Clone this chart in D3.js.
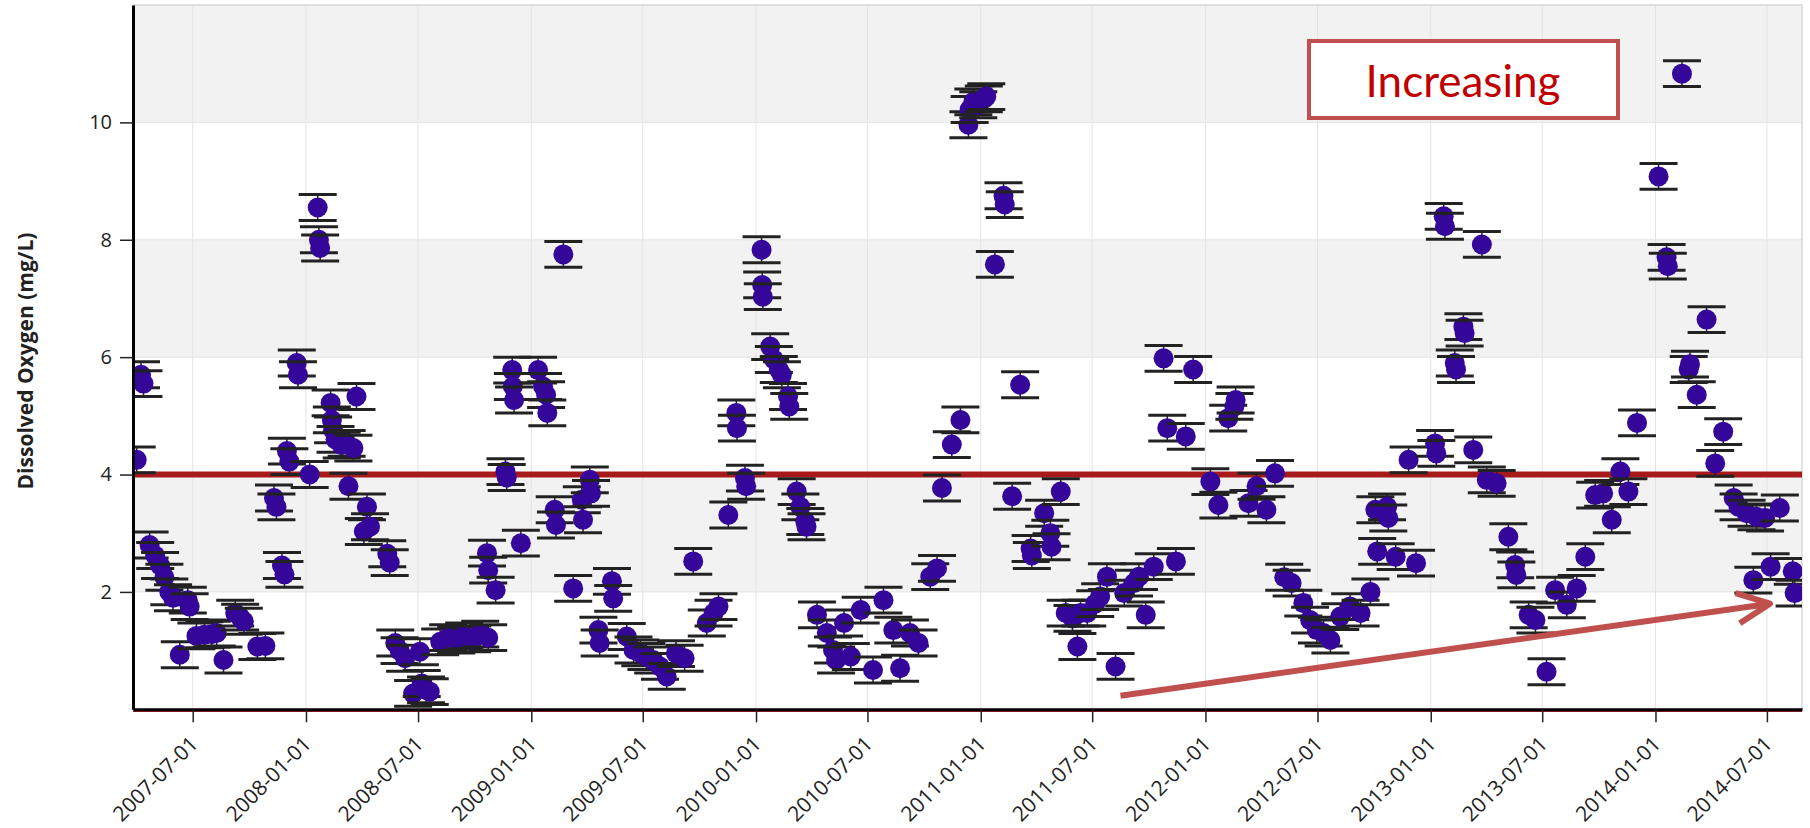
<!DOCTYPE html>
<html>
<head>
<meta charset="utf-8">
<script src="https://cdn.jsdelivr.net/npm/d3@7"></script>
<style>
  body { margin: 0; background: #fff; }
</style>
</head>
<body>
<div id="chart"></div>
<script>
// sample dates and dissolved oxygen readings (mg/L)
var sampleDates = [
  "2007-04-01","2007-04-08","2007-04-12","2007-04-22","2007-05-01","2007-05-09","2007-05-16","2007-05-24","2007-05-30","2007-06-10",
  "2007-06-23","2007-06-26","2007-07-07","2007-07-20","2007-08-01","2007-08-09","2007-08-20","2007-09-08","2007-09-16","2007-09-22",
  "2007-10-14","2007-10-27","2007-11-10","2007-11-14","2007-11-23","2007-11-27","2007-12-01","2007-12-05","2007-12-17","2007-12-19",
  "2008-01-07","2008-01-20","2008-01-22","2008-01-24","2008-02-10","2008-02-12","2008-02-14","2008-02-18","2008-02-28","2008-03-07",
  "2008-03-10","2008-03-18","2008-03-23","2008-04-04","2008-04-09","2008-04-14","2008-05-12","2008-05-16","2008-05-25","2008-06-01",
  "2008-06-10","2008-06-23","2008-07-04","2008-07-07","2008-07-14","2008-07-20","2008-08-06","2008-08-19","2008-09-01","2008-09-14",
  "2008-09-27","2008-10-10","2008-10-23","2008-10-21","2008-10-23","2008-11-04","2008-11-20","2008-11-22","2008-12-01","2008-12-02",
  "2008-12-04","2008-12-15",
  "2009-01-12","2009-01-20","2009-01-25","2009-01-27","2009-02-08","2009-02-10","2009-02-22","2009-03-10","2009-03-24","2009-03-26",
  "2009-04-06","2009-04-08","2009-04-20","2009-04-22","2009-05-12","2009-05-14","2009-06-05","2009-06-16","2009-06-27","2009-07-07",
  "2009-07-18","2009-07-29","2009-08-09","2009-08-24","2009-09-07","2009-09-21","2009-10-13","2009-10-24","2009-11-01","2009-11-17",
  "2009-11-30","2009-12-01","2009-12-14","2009-12-16",
  "2010-01-10","2010-01-11","2010-01-12","2010-01-24","2010-01-30","2010-02-07","2010-02-12","2010-02-22","2010-02-24","2010-03-08",
  "2010-03-14","2010-03-22","2010-03-24","2010-04-10","2010-04-26","2010-05-06","2010-05-11","2010-05-24","2010-06-04","2010-06-20",
  "2010-07-10","2010-07-27","2010-08-12","2010-08-23","2010-09-08","2010-09-22","2010-10-11","2010-10-22","2010-10-30","2010-11-15",
  "2010-11-29","2010-12-12","2010-12-14","2010-12-20","2010-12-28",
  "2011-01-06","2011-01-10","2011-01-24","2011-02-07","2011-02-09","2011-02-21","2011-03-06","2011-03-23","2011-03-25","2011-04-14",
  "2011-04-24","2011-04-26","2011-05-11","2011-05-19","2011-05-30","2011-06-07","2011-06-12","2011-06-23","2011-07-06","2011-07-14",
  "2011-07-25","2011-08-08","2011-08-22","2011-09-07","2011-09-15","2011-09-26","2011-10-09","2011-10-25","2011-10-31","2011-11-14",
  "2011-11-30","2011-12-12",
  "2012-01-09","2012-01-22","2012-02-07","2012-02-17","2012-02-19","2012-03-11","2012-03-24","2012-04-09","2012-04-23","2012-05-08",
  "2012-05-20","2012-06-08","2012-06-19","2012-06-30","2012-07-11","2012-07-22","2012-08-07","2012-08-23","2012-09-09","2012-09-25",
  "2012-10-03","2012-10-06","2012-10-22","2012-10-24","2012-11-05","2012-11-26","2012-12-08",
  "2013-01-08","2013-01-10","2013-01-22","2013-01-24","2013-02-09","2013-02-11","2013-02-23","2013-02-25","2013-03-11","2013-03-25",
  "2013-04-02","2013-04-18","2013-05-07","2013-05-18","2013-05-20","2013-06-09","2013-06-20","2013-07-08","2013-07-22","2013-08-10",
  "2013-08-26","2013-09-09","2013-09-25","2013-10-08","2013-10-22","2013-11-05","2013-11-18","2013-12-02",
  "2014-01-06","2014-01-19","2014-01-21","2014-02-13","2014-02-24","2014-02-26","2014-03-09","2014-03-25","2014-04-08","2014-04-21",
  "2014-05-08","2014-05-16","2014-05-29","2014-06-09","2014-06-14","2014-06-28","2014-07-07","2014-07-22","2014-08-12","2014-08-15"
];

var oxygen = [
  4.25,5.70,5.55,2.80,2.62,2.45,2.25,2.00,1.90,0.93,
  1.86,1.75,1.25,1.27,1.28,1.30,0.84,1.64,1.57,1.50,
  1.07,1.08,3.60,3.45,2.45,2.30,4.40,4.22,5.90,5.70,
  4.00,8.55,8.00,7.86,5.22,4.93,4.76,4.60,4.50,4.53,
  3.80,4.45,5.33,3.03,3.45,3.11,2.65,2.50,1.13,1.00,
  0.87,0.27,0.98,0.44,0.33,0.30,1.15,1.22,1.18,1.25,
  1.20,1.28,1.22,2.66,2.37,2.03,4.05,3.95,5.78,5.50,
  5.27,2.83,
  5.78,5.50,5.36,5.05,3.40,3.14,7.75,2.06,3.57,3.23,
  3.91,3.68,1.35,1.13,2.18,1.89,1.24,1.01,0.96,0.90,
  0.84,0.73,0.56,0.95,0.87,2.52,1.47,1.64,1.75,3.31,
  5.05,4.79,3.94,3.80,
  7.83,7.23,7.03,6.18,5.96,5.79,5.70,5.33,5.16,3.71,
  3.45,3.20,3.11,1.61,1.30,1.01,0.84,1.47,0.90,1.69,
  0.67,1.86,1.35,0.70,1.30,1.13,2.26,2.40,3.77,4.51,
  4.93,9.96,10.22,10.35,10.30,
  10.40,10.44,7.58,8.75,8.60,3.63,5.53,2.74,2.62,3.34,
  3.00,2.77,3.71,1.64,1.55,1.07,1.64,1.64,1.80,1.92,
  2.26,0.73,1.98,2.15,2.26,1.61,2.43,5.98,4.79,2.52,
  4.65,5.79,
  3.88,3.48,4.96,5.16,5.27,3.51,3.80,3.40,4.02,2.25,
  2.15,1.81,1.52,1.35,1.30,1.18,1.58,1.75,1.64,2.00,
  3.40,2.69,3.45,3.26,2.60,4.25,2.49,
  4.53,4.36,8.40,8.23,5.90,5.79,6.52,6.41,4.42,7.92,
  3.91,3.85,2.94,2.46,2.29,1.61,1.52,0.64,2.03,1.78,
  2.06,2.60,3.65,3.68,3.23,4.05,3.71,4.88,
  9.08,7.70,7.55,10.83,5.79,5.88,5.36,6.64,4.19,4.73,
  3.60,3.45,3.34,2.20,3.28,3.26,2.43,3.43,2.35,1.98
];

var errorMg = 0.22;            // half height of each error bar
var yTicks = [2, 4, 6, 8, 10];
var xTicks = ["2007-07-01","2008-01-01","2008-07-01","2009-01-01","2009-07-01","2010-01-01","2010-07-01","2011-01-01",
              "2011-07-01","2012-01-01","2012-07-01","2013-01-01","2013-07-01","2014-01-01","2014-07-01"];
var shadedBands = [[2, 4], [6, 8], [10, 12]];
var limitValue = 4;
var trendDates = ["2011-08-16", "2014-07-06"];
var trendValues = [0.23, 1.80];
var noteText = "Increasing";

var width = 1810, height = 828;
var plotL = 133, plotR = 1802, plotT = 5, plotB = 709.3;

var parse = d3.utcParse("%Y-%m-%d");
var points = sampleDates.map((d, i) => ({date: parse(d), value: oxygen[i]}));

var svg = d3.select("#chart")
            .append("svg")
            .attr("width", width)
            .attr("height", height)
            .style("font-family", "'Open Sans', sans-serif");

var x = d3.scaleUtc()
          .domain([parse("2007-03-26"), parse("2014-08-27")])
          .range([plotL, plotR]);

var y = d3.scaleLinear()
          .domain([0, 12])
          .range([plotB, plotT]);

// background bands
svg.append("g").selectAll("rect")
    .data(shadedBands)
    .enter().append("rect")
    .attr("x", plotL)
    .attr("width", plotR - plotL)
    .attr("y", d => y(d[1]))
    .attr("height", d => y(d[0]) - y(d[1]))
    .attr("fill", "#f2f2f2");

// grid
svg.append("g").selectAll("line")
    .data(xTicks)
    .enter().append("line")
    .attr("x1", d => x(parse(d))).attr("x2", d => x(parse(d)))
    .attr("y1", plotT).attr("y2", plotB)
    .attr("stroke", "#e4e4e4").attr("stroke-width", 1);

svg.append("g").selectAll("line")
    .data(yTicks)
    .enter().append("line")
    .attr("x1", plotL).attr("x2", plotR)
    .attr("y1", d => y(d)).attr("y2", d => y(d))
    .attr("stroke", "#e4e4e4").attr("stroke-width", 1);

// plot border (top, right)
svg.append("path")
    .attr("d", `M${plotL},${plotT}H${plotR}V${plotB}`)
    .attr("fill", "none")
    .attr("stroke", "#d8d8d8")
    .attr("stroke-width", 1.5);

// limit line
svg.append("line")
    .attr("x1", plotL).attr("x2", plotR)
    .attr("y1", y(limitValue)).attr("y2", y(limitValue))
    .attr("stroke", "#a81a1a")
    .attr("stroke-width", 6);

svg.append("defs").append("clipPath").attr("id", "plotclip")
    .append("rect")
    .attr("x", plotL).attr("y", plotT)
    .attr("width", plotR - plotL).attr("height", plotB - plotT);

var marks = svg.append("g").attr("clip-path", "url(#plotclip)");

var pt = marks.selectAll("g.pt")
    .data(points)
    .enter().append("g")
    .attr("class", "pt")
    .attr("transform", d => `translate(${x(d.date)},0)`);

pt.append("line")
    .attr("x1", 0).attr("x2", 0)
    .attr("y1", d => y(d.value - errorMg))
    .attr("y2", d => y(d.value + errorMg))
    .attr("stroke", "#222").attr("stroke-width", 1.5);

pt.selectAll("line.cap")
    .data(d => [d.value - errorMg, d.value + errorMg])
    .enter().append("line")
    .attr("class", "cap")
    .attr("x1", -19).attr("x2", 19)
    .attr("y1", d => y(d)).attr("y2", d => y(d))
    .attr("stroke", "#222").attr("stroke-width", 3);

pt.append("circle")
    .attr("cy", d => y(d.value))
    .attr("r", 10)
    .attr("fill", "#34069a");

// axes
var yAxis = d3.axisLeft(y)
              .tickValues(yTicks)
              .tickSize(13)
              .tickSizeOuter(0)
              .tickPadding(8)
              .tickFormat(d3.format("d"));

var gy = svg.append("g")
            .attr("transform", `translate(${plotL},0)`)
            .call(yAxis);
gy.select(".domain").attr("stroke", "#000").attr("stroke-width", 3);
gy.selectAll(".tick line").attr("stroke", "#222").attr("stroke-width", 1.5);
gy.selectAll(".tick text")
    .style("font-size", "20px")
    .style("font-family", "'Open Sans', sans-serif")
    .attr("fill", "#222");

// thin red line along zero
svg.append("line")
    .attr("x1", plotL).attr("x2", plotR)
    .attr("y1", y(0) + 2).attr("y2", y(0) + 2)
    .attr("stroke", "#9e2020").attr("stroke-width", 1.5);

var xAxis = d3.axisBottom(x)
              .tickValues(xTicks.map(parse))
              .tickSize(13)
              .tickSizeOuter(0)
              .tickFormat(d3.utcFormat("%Y-%m-%d"));

var gx = svg.append("g")
            .attr("transform", `translate(0,${plotB})`)
            .call(xAxis);
gx.select(".domain").attr("stroke", "#000").attr("stroke-width", 3);
gx.selectAll(".tick line").attr("stroke", "#222").attr("stroke-width", 1.5);
gx.selectAll(".tick text")
    .attr("x", 0).attr("y", 0).attr("dy", 0)
    .attr("text-anchor", "end")
    .attr("transform", "translate(6,36) rotate(-45)")
    .style("font-size", "21px")
    .style("font-family", "'Open Sans', sans-serif")
    .attr("fill", "#222");

// y title
svg.append("text")
    .attr("transform", "translate(33,361) rotate(-90)")
    .attr("text-anchor", "middle")
    .style("font-size", "21px")
    .style("font-weight", "bold")
    .attr("fill", "#222")
    .text("Dissolved Oxygen (mg/L)");

// trend arrow
var x0 = x(parse(trendDates[0])), y0 = y(trendValues[0]);
var x1 = x(parse(trendDates[1])), y1 = y(trendValues[1]);
var ang = Math.atan2(y1 - y0, x1 - x0), barb = 36, spread = 25 * Math.PI / 180;
var b1 = [x1 - barb * Math.cos(ang - spread), y1 - barb * Math.sin(ang - spread)];
var b2 = [x1 - barb * Math.cos(ang + spread), y1 - barb * Math.sin(ang + spread)];
svg.append("path")
    .attr("d", `M${x0},${y0}L${x1},${y1}M${b1[0]},${b1[1]}L${x1},${y1}L${b2[0]},${b2[1]}`)
    .attr("fill", "none")
    .attr("stroke", "#c0504d")
    .attr("stroke-width", 6)
    .attr("stroke-linejoin", "round");

// note box
svg.append("rect")
    .attr("x", 1309).attr("y", 41)
    .attr("width", 309).attr("height", 77)
    .attr("fill", "#fff")
    .attr("stroke", "#c0504d")
    .attr("stroke-width", 4);

svg.append("text")
    .attr("x", 1463).attr("y", 97)
    .attr("text-anchor", "middle")
    .style("font-family", "Lato, sans-serif")
    .style("font-size", "44px")
    .attr("fill", "#c00000")
    .text(noteText);
</script>
</body>
</html>
